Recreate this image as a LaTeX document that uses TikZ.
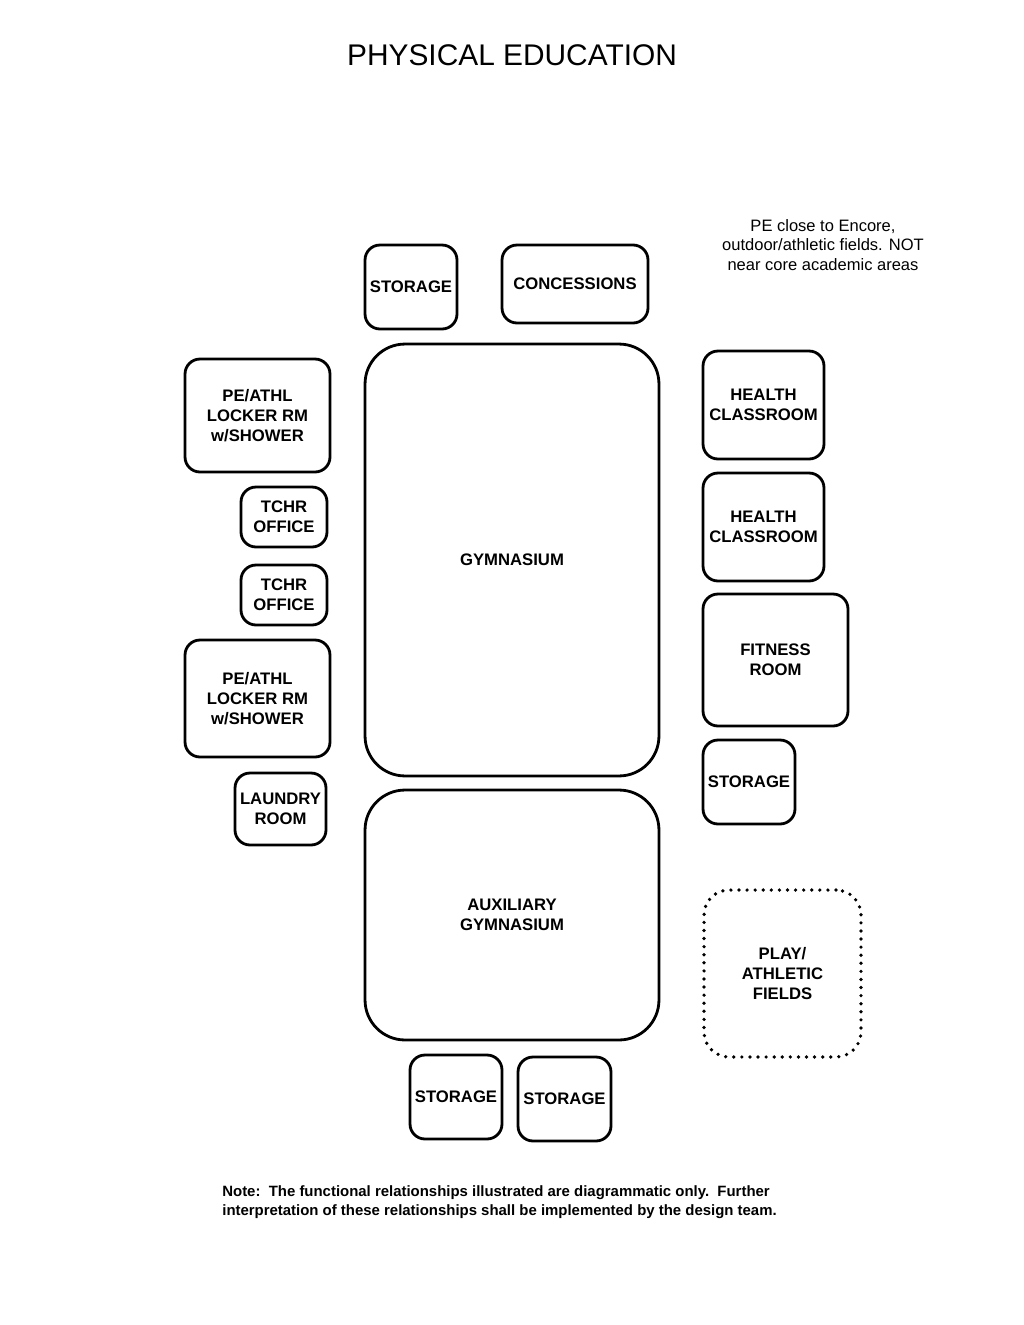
\documentclass[tikz,border=0pt]{standalone}
\usepackage{fontspec}
\setmainfont{Liberation Sans}
\usetikzlibrary{positioning}

\begin{document}
\begin{tikzpicture}[
  x=0.02cm, y=-0.02cm,
  room/.style={rectangle, draw, rounded corners=0.3cm, line width=1.6pt,
    align=center, inner sep=0pt,
    font=\fontsize{9.5}{11.3}\selectfont\bfseries},
  gym/.style={room, rounded corners=0.8cm},
  field/.style={room, rounded corners=0.5cm, line width=2.1pt,
    line cap=round, dash pattern=on 0pt off 4.6pt},
  remark/.style={align=center, inner sep=0pt,
    font=\fontsize{9.4}{11.3}\selectfont}]
  \useasboundingbox (0,0) rectangle (1024,1325);
  % title and remarks
  \node[inner sep=0pt, font=\fontsize{17}{20}\selectfont] (title) at (512,55) {PHYSICAL EDUCATION};
  \node[remark] (pe) at (823,245) {PE close to Encore,\\outdoor/athletic fields. NOT\\near core academic areas};
  \node[remark, anchor=west, align=left, font=\fontsize{8.5}{10.8}\selectfont\bfseries] (note) at (222,1202)
    {Note:\ \ The functional relationships illustrated are diagrammatic only.\ \ Further\\
     interpretation of these relationships shall be implemented by the design team.};
  % top row
  \node[room, minimum width=1.84cm, minimum height=1.68cm] (stoA) at (411,287) {STORAGE};
  \node[room, minimum width=2.92cm, minimum height=1.56cm] (conc) at (575,284) {CONCESSIONS};
  % gyms
  \node[gym, minimum width=5.88cm, minimum height=8.64cm] (gym) at (512,560) {GYMNASIUM};
  \node[gym, minimum width=5.88cm, minimum height=5.0cm] (aux) at (512,915) {AUXILIARY\\GYMNASIUM};
  % left side
  \node[room, minimum width=2.9cm, minimum height=2.26cm] (lockA) at (257.5,415.5) {PE/ATHL\\LOCKER RM\\w/SHOWER};
  \node[room, minimum width=1.72cm, minimum height=1.2cm] (tchrA) at (284,517) {TCHR\\OFFICE};
  \node[room, minimum width=1.72cm, minimum height=1.2cm] (tchrB) at (284,595) {TCHR\\OFFICE};
  \node[room, minimum width=2.9cm, minimum height=2.34cm] (lockB) at (257.5,698.5) {PE/ATHL\\LOCKER RM\\w/SHOWER};
  \node[room, minimum width=1.82cm, minimum height=1.44cm] (laun) at (280.5,809) {LAUNDRY\\ROOM};
  % right side
  \node[room, minimum width=2.42cm, minimum height=2.16cm] (hlthA) at (763.5,405) {HEALTH\\CLASSROOM};
  \node[room, minimum width=2.42cm, minimum height=2.16cm] (hlthB) at (763.5,527) {HEALTH\\CLASSROOM};
  \node[room, minimum width=2.9cm, minimum height=2.64cm] (fit) at (775.5,660) {FITNESS\\ROOM};
  \node[room, minimum width=1.84cm, minimum height=1.68cm] (stoB) at (749,782) {STORAGE};
  \node[field, minimum width=3.14cm, minimum height=3.34cm] (fld) at (782.5,973.5) {PLAY/\\ATHLETIC\\FIELDS};
  % bottom row
  \node[room, minimum width=1.84cm, minimum height=1.68cm] (stoC) at (456,1097) {STORAGE};
  \node[room, minimum width=1.86cm, minimum height=1.68cm] (stoD) at (564.5,1099) {STORAGE};
\end{tikzpicture}
\end{document}
